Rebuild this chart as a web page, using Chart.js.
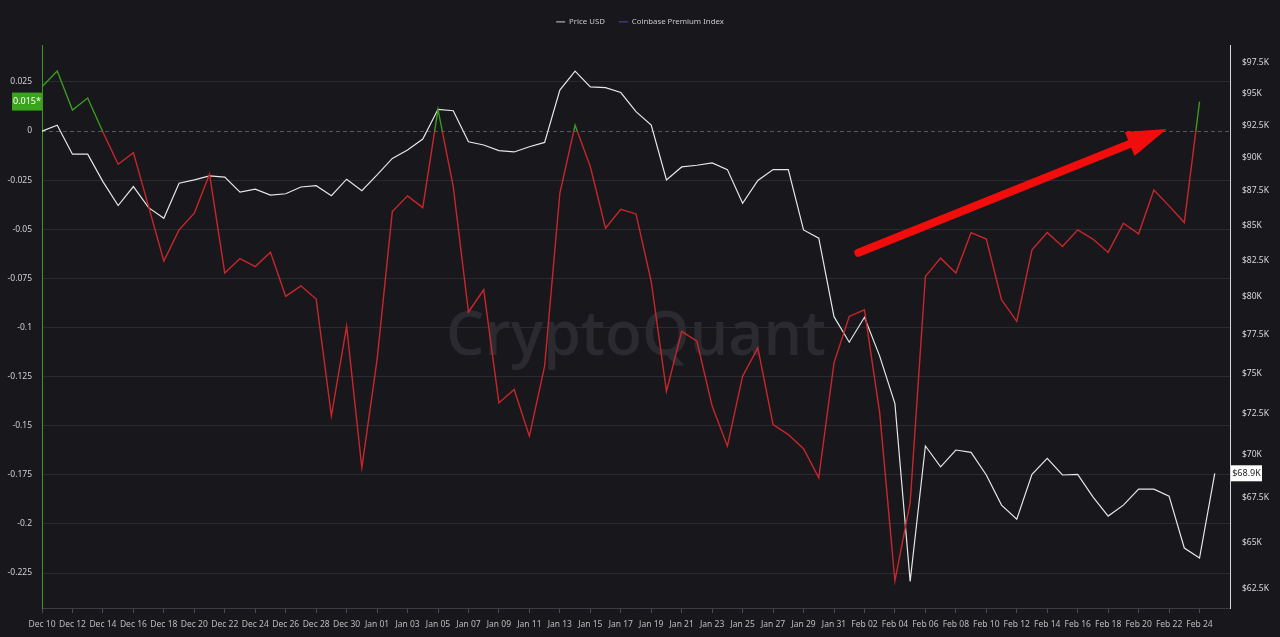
<!DOCTYPE html>
<html>
<head>
<meta charset="utf-8">
<script src="https://cdn.jsdelivr.net/npm/chart.js@4.4.1/dist/chart.umd.min.js"></script>
<style>
  html, body { margin: 0; padding: 0; background: #17171c; }
  #wrap { width: 1280px; height: 637px; position: relative; }
</style>
</head>
<body>
<div id="wrap"><canvas id="canvas"></canvas></div>
<script>
'use strict';

const labels = [
  'Dec 10','Dec 11','Dec 12','Dec 13','Dec 14','Dec 15','Dec 16','Dec 17','Dec 18','Dec 19','Dec 20',
  'Dec 21','Dec 22','Dec 23','Dec 24','Dec 25','Dec 26','Dec 27','Dec 28','Dec 29','Dec 30','Dec 31',
  'Jan 01','Jan 02','Jan 03','Jan 04','Jan 05','Jan 06','Jan 07','Jan 08','Jan 09','Jan 10','Jan 11',
  'Jan 12','Jan 13','Jan 14','Jan 15','Jan 16','Jan 17','Jan 18','Jan 19','Jan 20','Jan 21','Jan 22',
  'Jan 23','Jan 24','Jan 25','Jan 26','Jan 27','Jan 28','Jan 29','Jan 30','Jan 31',
  'Feb 01','Feb 02','Feb 03','Feb 04','Feb 05','Feb 06','Feb 07','Feb 08','Feb 09','Feb 10','Feb 11',
  'Feb 12','Feb 13','Feb 14','Feb 15','Feb 16','Feb 17','Feb 18','Feb 19','Feb 20','Feb 21','Feb 22',
  'Feb 23','Feb 24','Feb 25','Feb 26'
];

const priceUsd = [
  92050, 92500, 90270, 90270, 88200, 86430, 87830, 86280, 85510, 88080, 88330,
  88630, 88530, 87420, 87640, 87200, 87300, 87800, 87900, 87150, 88380, 87530,
  88700, 89950, 90590, 91430, 93760, 93650, 91220, 90970, 90540, 90440, 90840,
  91170, 95300, 96840, 95560, 95500, 95100, 93570, 92520, 88330, 89300, 89430,
  89600, 89100, 86600, 88280, 89100, 89100, 84670, 84080, 78680,
  77000, 78640, 76100, 73100, 62900, 70530, 69300, 70290, 70150, 68820, 67090,
  66300, 68860, 69800, 68820, 68860, 67560, 66470, 67090, 68000, 68000, 67600,
  64700, 64150, 68920
];

const premiumIndex = [
  0.0225, 0.0306, 0.0107, 0.0168, -0.0005, -0.0169, -0.011, -0.0385, -0.0662, -0.0503, -0.0418,
  -0.022, -0.0723, -0.0649, -0.069, -0.0617, -0.0842, -0.0788, -0.0855, -0.145, -0.0994, -0.1714,
  -0.1164, -0.041, -0.033, -0.039, 0.011, -0.0283, -0.0921, -0.0808, -0.1384, -0.1316, -0.1553,
  -0.1197, -0.0317, 0.003, -0.0181, -0.0495, -0.0399, -0.0422, -0.0766, -0.1325, -0.102, -0.107,
  -0.14, -0.1604, -0.1248, -0.1104, -0.1494, -0.1545, -0.1617, -0.1765, -0.118,
  -0.0944, -0.091, -0.1435, -0.229, -0.1892, -0.074, -0.0647, -0.0723, -0.0517, -0.055, -0.0859,
  -0.0969, -0.0605, -0.0517, -0.0588, -0.0503, -0.055, -0.0618, -0.0469, -0.0523, -0.03, -0.0381,
  -0.0466, 0.015
];

const premiumTicks = [0.025, 0, -0.025, -0.05, -0.075, -0.1, -0.125, -0.15, -0.175, -0.2, -0.225];
const priceTicks = [62500, 65000, 67500, 70000, 72500, 75000, 77500, 80000, 82500, 85000, 87500, 90000, 92500, 95000, 97500];

// arrow drawn on the chart, in [index, premium] terms
const arrowFrom = [53.6, -0.062];
const arrowTo = [73.85, 0.001];

const GREEN = '#3a9a1e';
const RED = '#c9262a';
const FONT = 'Noto Sans';

function premiumColor(context) {
  const chart = context.chart;
  const area = chart.chartArea;
  if (!area) {
    return RED;
  }
  const y0 = chart.scales.y.getPixelForValue(0);
  let stop = (y0 - area.top) / (area.bottom - area.top);
  stop = Math.min(Math.max(stop, 0), 1);
  const grad = chart.ctx.createLinearGradient(0, area.top, 0, area.bottom);
  grad.addColorStop(0, GREEN);
  grad.addColorStop(stop, GREEN);
  grad.addColorStop(stop, RED);
  grad.addColorStop(1, RED);
  return grad;
}

const extras = {
  id: 'extras',
  beforeInit(chart) {
    const fit = chart.legend.fit;
    chart.legend.fit = function () {
      fit.call(this);
      this.height = 41;
    };
  },
  beforeDatasetsDraw(chart) {
    const ctx = chart.ctx;
    const area = chart.chartArea;
    // watermark
    ctx.save();
    ctx.font = '600 62px "Open Sans"';
    const w = ctx.measureText('CryptoQuant').width;
    ctx.translate((area.left + area.right) / 2, (area.top + area.bottom) / 2 + 28);
    ctx.scale(380 / w, 1);
    ctx.fillStyle = '#2a2a30';
    ctx.textAlign = 'center';
    ctx.textBaseline = 'alphabetic';
    ctx.fillText('CryptoQuant', 0, 0);
    ctx.restore();
    // zero line
    const y0 = chart.scales.y.getPixelForValue(0);
    ctx.save();
    ctx.strokeStyle = 'rgba(255,255,255,0.28)';
    ctx.lineWidth = 1;
    ctx.setLineDash([4, 3]);
    ctx.beginPath();
    ctx.moveTo(area.left, Math.round(y0) + 0.5);
    ctx.lineTo(area.right, Math.round(y0) + 0.5);
    ctx.stroke();
    ctx.restore();
  },
  afterDraw(chart) {
    const ctx = chart.ctx;
    const area = chart.chartArea;
    const x = chart.scales.x;
    const y = chart.scales.y;
    const y1 = chart.scales.y1;

    // red arrow
    const x1 = x.getPixelForValue(arrowFrom[0]);
    const yA = y.getPixelForValue(arrowFrom[1]);
    const x2 = x.getPixelForValue(arrowTo[0]);
    const yB = y.getPixelForValue(arrowTo[1]);
    const len = Math.hypot(x2 - x1, yB - yA);
    const ux = (x2 - x1) / len;
    const uy = (yB - yA) / len;
    const headLen = 40;
    const headW = 13;
    const bx = x2 - ux * headLen;
    const by = yB - uy * headLen;
    ctx.save();
    ctx.strokeStyle = '#f20d0d';
    ctx.fillStyle = '#f20d0d';
    ctx.lineWidth = 8;
    ctx.lineCap = 'round';
    ctx.beginPath();
    ctx.moveTo(x1, yA);
    ctx.lineTo(bx + ux * 4, by + uy * 4);
    ctx.stroke();
    ctx.beginPath();
    ctx.moveTo(x2, yB);
    ctx.lineTo(bx - uy * headW, by + ux * headW);
    ctx.lineTo(bx + uy * headW, by - ux * headW);
    ctx.closePath();
    ctx.fill();
    ctx.restore();

    // last value badges
    const lastPremium = premiumIndex[premiumIndex.length - 1];
    const lastPrice = priceUsd[priceUsd.length - 1];
    ctx.save();
    ctx.font = '9px "' + FONT + '"';
    ctx.textBaseline = 'middle';
    ctx.textAlign = 'center';
    let py = y.getPixelForValue(lastPremium);
    ctx.fillStyle = '#3aa51c';
    ctx.fillRect(12, py - 9, area.left - 12, 18);
    ctx.fillStyle = '#ffffff';
    ctx.fillText(lastPremium.toFixed(3) + '*', (12 + area.left) / 2, py);
    py = y1.getPixelForValue(lastPrice);
    ctx.fillStyle = '#ffffff';
    ctx.fillRect(area.right + 1, py - 8, 31, 16);
    ctx.fillStyle = '#222';
    ctx.fillText('$' + (lastPrice / 1000).toFixed(1) + 'K', area.right + 16.5, py);
    ctx.restore();
  }
};

function renderChart() {
  const ctx = document.getElementById('canvas').getContext('2d');
  new Chart(ctx, {
    type: 'line',
    data: {
      labels: labels,
      datasets: [
        {
          label: 'Price USD',
          data: priceUsd,
          yAxisID: 'y1',
          borderColor: '#e6e6e6',
          borderWidth: 1.2,
          pointRadius: 0,
          tension: 0,
          order: 2
        },
        {
          label: 'Coinbase Premium Index',
          data: premiumIndex,
          yAxisID: 'y',
          borderColor: premiumColor,
          borderWidth: 1.4,
          pointRadius: 0,
          tension: 0,
          order: 1
        }
      ]
    },
    options: {
      responsive: true,
      maintainAspectRatio: false,
      animation: false,
      layout: { padding: { top: 4, left: 0, right: 0, bottom: 0 } },
      plugins: {
        tooltip: { enabled: false },
        legend: {
          display: true,
          position: 'top',
          labels: {
            color: '#c8c8c8',
            font: { family: FONT, size: 7.8 },
            usePointStyle: true,
            pointStyleWidth: 9,
            padding: 14,
            generateLabels() {
              return [
                { text: 'Price USD', pointStyle: 'line', strokeStyle: '#d0d0d0', fillStyle: '#d0d0d0', lineWidth: 1, fontColor: '#c8c8c8' },
                { text: 'Coinbase Premium Index', pointStyle: 'line', strokeStyle: '#4a4ab8', fillStyle: '#4a4ab8', lineWidth: 1, fontColor: '#c8c8c8' }
              ];
            }
          }
        }
      },
      scales: {
        x: {
          type: 'category',
          offset: false,
          afterFit(scale) { scale.height = 29; },
          afterBuildTicks(scale) {
            scale.ticks = scale.ticks.filter(t => t.value % 2 === 0 && t.value <= 76);
          },
          ticks: {
            autoSkip: false,
            maxRotation: 0,
            color: '#bdbdbd',
            padding: 6,
            font: { family: FONT, size: 8.5 }
          },
          grid: { drawOnChartArea: false, drawTicks: true, tickLength: 5, color: '#4a4a50' },
          border: { color: '#3c3c42' }
        },
        y: {
          type: 'linear',
          position: 'left',
          min: -0.2428,
          max: 0.0438,
          afterFit(scale) { scale.width = 42; },
          afterBuildTicks(scale) {
            scale.ticks = premiumTicks.map(v => ({ value: v }));
          },
          ticks: {
            color: '#d0d0d0',
            padding: 10,
            font: { family: FONT, size: 8.5 },
            callback: v => String(Math.round(v * 1000) / 1000)
          },
          grid: {
            drawTicks: false,
            color: c => (c.tick && c.tick.value === 0 ? 'rgba(0,0,0,0)' : '#2a2a30')
          },
          border: { color: GREEN, width: 1 }
        },
        y1: {
          type: 'logarithmic',
          position: 'right',
          min: 61500,
          max: 99000,
          afterFit(scale) { scale.width = 50; },
          afterBuildTicks(scale) {
            scale.ticks = priceTicks.map(v => ({ value: v }));
          },
          ticks: {
            color: '#d8d8d8',
            padding: 12,
            font: { family: FONT, size: 8.5 },
            callback: v => '$' + (v / 1000) + 'K'
          },
          grid: { drawOnChartArea: false, drawTicks: false },
          border: { color: '#d8d8d8', width: 1 }
        }
      }
    },
    plugins: [extras]
  });
}

renderChart();
</script>
</body>
</html>
